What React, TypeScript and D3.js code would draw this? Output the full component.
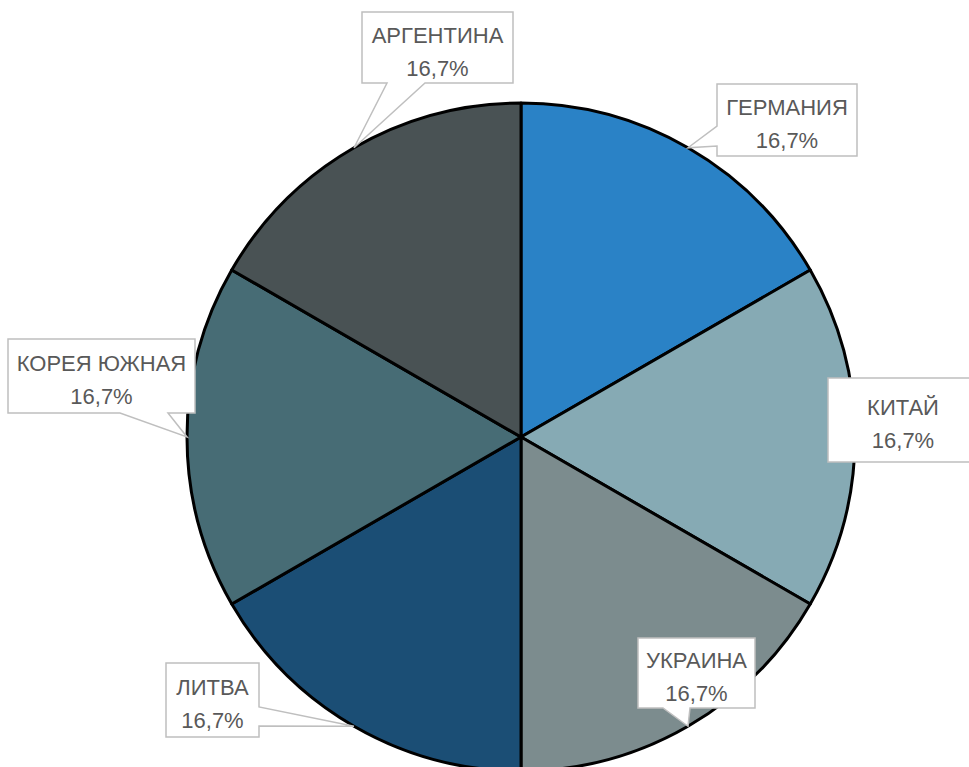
import React from "react";
import * as d3 from "d3";

const countries = ["ГЕРМАНИЯ", "КИТАЙ", "УКРАИНА", "ЛИТВА", "КОРЕЯ ЮЖНАЯ", "АРГЕНТИНА"];
const values = [1, 1, 1, 1, 1, 1];
const colors = ["#2A82C6", "#86AAB4", "#7C8C8E", "#1B4E75", "#476C75", "#495254"];

// label box layout and pointer base segment
const boxes = [
  { x: 717, y: 84, w: 140, h: 72, base: [[717, 126], [717, 146]] },
  { x: 828, y: 378, w: 150, h: 84, base: null },
  { x: 638, y: 638, w: 117, h: 70, base: [[663, 708], [690, 708]] },
  { x: 166, y: 663, w: 93, h: 74, base: [[259, 707], [259, 726]] },
  { x: 8, y: 339, w: 187, h: 74, base: [[120, 413], [168, 413]] },
  { x: 362, y: 12, w: 151, h: 71, base: [[387, 83], [425, 83]] },
];

const W = 969, H = 767;
const cx = 521, cy = 437, R = 334;

export default function App() {
  const pie = d3.pie<number>().sort(null).startAngle(0).endAngle(2 * Math.PI)(values);
  const arc = d3.arc<d3.PieArcDatum<number>>().innerRadius(0).outerRadius(R);
  const pct = (v: number) => ((v / d3.sum(values)) * 100).toFixed(1).replace(".", ",") + "%";
  return (
    <svg width={W} height={H} style={{ position: "absolute", left: 0, top: 0, fontFamily: "'Liberation Sans', Arial, sans-serif" }}>
      <rect width={W} height={H} fill="#fff" />
      <g transform={`translate(${cx},${cy})`}>
        {pie.map((d, i) => (
          <path key={i} d={arc(d) || ""} fill={colors[i]} stroke="#000" strokeWidth={3} strokeLinejoin="round" />
        ))}
      </g>
      {pie.map((d, i) => {
        const b = boxes[i];
        const mid = (d.startAngle + d.endAngle) / 2;
        const tx = cx + R * Math.sin(mid);
        const ty = cy - R * Math.cos(mid);
        let path = `M${b.x},${b.y}H${b.x + b.w}V${b.y + b.h}H${b.x}Z`;
        if (b.base) {
          const [p1, p2] = b.base;
          const pts: number[][] = [[b.x, b.y], [b.x + b.w, b.y], [b.x + b.w, b.y + b.h], [b.x, b.y + b.h]];
          const edgeIndex = (p: number[]) => {
            if (p[1] === b.y) return 0;
            if (p[0] === b.x + b.w) return 1;
            if (p[1] === b.y + b.h) return 2;
            return 3;
          };
          const e = edgeIndex(p1);
          const out: number[][] = [];
          for (let k = 0; k < 4; k++) {
            out.push(pts[k]);
            if (k === e) {
              if (e === 0 || e === 1) out.push(p1, [tx, ty], p2);
              else out.push(p2, [tx, ty], p1);
            }
          }
          path = "M" + out.map((p) => `${p[0]},${p[1]}`).join("L") + "Z";
        }
        const textX = i === 1 ? 903 : b.x + b.w / 2;
        const centerY = b.y + b.h / 2;
        return (
          <g key={"l" + i}>
            <path d={path} fill="#fff" stroke="#BFBFBF" strokeWidth={1.5} />
            <text x={textX} y={centerY - 5} textAnchor="middle" fontSize={22} fill="#595959">
              {countries[i]}
            </text>
            <text x={textX} y={centerY + 28} textAnchor="middle" fontSize={22} fill="#595959">
              {pct(values[i])}
            </text>
          </g>
        );
      })}
    </svg>
  );
}
